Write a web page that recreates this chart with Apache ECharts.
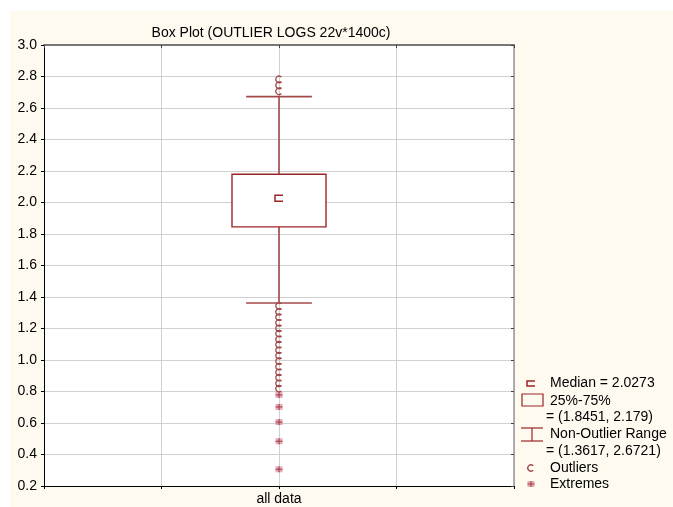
<!DOCTYPE html>
<html>
<head>
<meta charset="utf-8">
<script src="https://cdn.jsdelivr.net/npm/echarts@6/dist/echarts.min.js"></script>
<style>
html,body{margin:0;padding:0;background:#fff;}
#chart{width:673px;height:507px;}
</style>
</head>
<body>
<div id="chart"></div>
<script>
const titleText = 'Box Plot (OUTLIER LOGS 22v*1400c)';
const categories = ['all data'];
const catPos = [2];
const median = [2.0273];
const q1 = [1.8451];
const q3 = [2.179];
const whiskerLow = [1.3617];
const whiskerHigh = [2.6721];
const outliers = [2.782, 2.744, 2.706,
  1.343, 1.305, 1.272, 1.236, 1.201, 1.168, 1.131, 1.097, 1.062, 1.028, 0.993, 0.958, 0.922, 0.888, 0.852, 0.818];
const extremes = [0.778, 0.702, 0.606, 0.484, 0.306];
const yTicks = [0.2, 3.0, 0.2]; // min, max, interval

const RED = '#9B2525';
const FONT = '"Liberation Sans", Arial, sans-serif';

function cShape(x, y, color) {
  return {type: 'arc', shape: {cx: x, cy: y, r: 3.2, startAngle: 0.75, endAngle: Math.PI * 2 - 0.75, clockwise: true},
    style: {stroke: color, lineWidth: 1.3, fill: null}};
}
function extremeShape(x, y) {
  return {type: 'group', children: [
    {type: 'rect', shape: {x: x - 3.5, y: y - 3, width: 7, height: 6}, style: {fill: 'rgba(200,110,125,0.55)'}},
    {type: 'line', shape: {x1: x - 3.5, y1: y, x2: x + 3.5, y2: y}, style: {stroke: '#A83848', lineWidth: 1}},
    {type: 'line', shape: {x1: x, y1: y - 3, x2: x, y2: y + 3}, style: {stroke: '#A83848', lineWidth: 1}}
  ]};
}

const boxData = categories.map((c, i) => [catPos[i], whiskerLow[i], q1[i], median[i], q3[i], whiskerHigh[i]]);
const outData = outliers.map(v => [catPos[0], v]);
const extData = extremes.map(v => [catPos[0], v]);

const chart = echarts.init(document.getElementById('chart'));
const axisFont = {color: '#000', fontSize: 14, fontFamily: FONT};

chart.setOption({
  animation: false,
  backgroundColor: '#ffffff',
  title: {text: titleText, left: 266, top: 21, textAlign: 'center',
    textStyle: {fontSize: 14, fontWeight: 'normal', color: '#000', fontFamily: FONT}},
  grid: {left: 44, top: 45, right: 159, bottom: 21, show: true, backgroundColor: '#ffffff', borderWidth: 0, z: 0},
  xAxis: [{
    type: 'value', min: 0, max: 4, interval: 1, position: 'bottom',
    axisLine: {show: true, onZero: false, lineStyle: {color: '#000', width: 1}},
    axisTick: {show: true, inside: false, length: 3, lineStyle: {color: '#000'}},
    splitLine: {show: true, lineStyle: {color: '#D0D0D0', width: 1}},
    axisLabel: {formatter: v => { const i = catPos.indexOf(v); return i >= 0 ? categories[i] : ''; }, margin: 6, ...axisFont}
  }, {
    type: 'value', min: 0, max: 4, interval: 1, position: 'top',
    axisLine: {show: true, onZero: false, lineStyle: {color: '#777', width: 2}},
    axisTick: {show: true, inside: true, length: 3, lineStyle: {color: '#444'}},
    splitLine: {show: false}, axisLabel: {show: false}
  }],
  yAxis: [{
    type: 'value', min: yTicks[0], max: yTicks[1], interval: yTicks[2], position: 'left',
    axisLine: {show: true, onZero: false, lineStyle: {color: '#000', width: 1}},
    axisTick: {show: true, inside: false, length: 3, lineStyle: {color: '#000'}},
    splitLine: {show: true, lineStyle: {color: '#D0D0D0', width: 1}},
    axisLabel: {formatter: v => v.toFixed(1), margin: 7, ...axisFont}
  }, {
    type: 'value', min: yTicks[0], max: yTicks[1], interval: yTicks[2], position: 'right',
    axisLine: {show: true, onZero: false, lineStyle: {color: '#999', width: 1.5}},
    axisTick: {show: true, inside: true, length: 3, lineStyle: {color: '#444'}},
    splitLine: {show: false}, axisLabel: {show: false}
  }],
  graphic: [
    {type: 'rect', z: -100, silent: true, shape: {x: 10, y: 11, width: 663, height: 496}, style: {fill: '#FFFAF0'}},
    // legend
    {type: 'polyline', shape: {points: [[535, 381], [527, 381], [527, 386], [535, 386]]}, style: {stroke: RED, lineWidth: 1.5, fill: null}},
    {type: 'text', x: 550, y: 383, style: {text: 'Median = ' + median[0].toFixed(4), font: '14px ' + FONT, fill: '#000', verticalAlign: 'middle'}},
    {type: 'rect', shape: {x: 522, y: 394, width: 21, height: 12}, style: {stroke: RED, lineWidth: 1.2, fill: null}},
    {type: 'text', x: 550, y: 401, style: {text: '25%-75%', font: '14px ' + FONT, fill: '#000', verticalAlign: 'middle'}},
    {type: 'text', x: 546, y: 417, style: {text: '= (' + q1[0] + ', ' + q3[0] + ')', font: '14px ' + FONT, fill: '#000', verticalAlign: 'middle'}},
    {type: 'line', shape: {x1: 521, y1: 428, x2: 543, y2: 428}, style: {stroke: RED, lineWidth: 1.2}},
    {type: 'line', shape: {x1: 521, y1: 441, x2: 543, y2: 441}, style: {stroke: RED, lineWidth: 1.2}},
    {type: 'line', shape: {x1: 532, y1: 428, x2: 532, y2: 441}, style: {stroke: RED, lineWidth: 1.2}},
    {type: 'text', x: 550, y: 434, style: {text: 'Non-Outlier Range', font: '14px ' + FONT, fill: '#000', verticalAlign: 'middle'}},
    {type: 'text', x: 546, y: 451, style: {text: '= (' + whiskerLow[0] + ', ' + whiskerHigh[0] + ')', font: '14px ' + FONT, fill: '#000', verticalAlign: 'middle'}},
    Object.assign(cShape(531, 468, '#A04848'), {}),
    {type: 'text', x: 550, y: 468, style: {text: 'Outliers', font: '14px ' + FONT, fill: '#000', verticalAlign: 'middle'}},
    extremeShape(531, 484),
    {type: 'text', x: 550, y: 484, style: {text: 'Extremes', font: '14px ' + FONT, fill: '#000', verticalAlign: 'middle'}}
  ],
  series: [{
    type: 'custom', z: 3,
    data: boxData,
    encode: {x: 0, y: [1, 2, 3, 4, 5]},
    renderItem: function (params, api) {
      const x = api.value(0);
      const pLow = api.coord([x, api.value(1)]);
      const pQ1 = api.coord([x, api.value(2)]);
      const pMed = api.coord([x, api.value(3)]);
      const pQ3 = api.coord([x, api.value(4)]);
      const pHigh = api.coord([x, api.value(5)]);
      const boxW = api.size([0.8, 0])[0];
      const capW = api.size([0.56, 0])[0];
      const cx = pMed[0];
      return {type: 'group', children: [
        {type: 'line', shape: {x1: cx, y1: pQ1[1], x2: cx, y2: pLow[1]}, style: {stroke: '#A24A4A', lineWidth: 1.6}},
        {type: 'line', shape: {x1: cx, y1: pQ3[1], x2: cx, y2: pHigh[1]}, style: {stroke: '#A24A4A', lineWidth: 1.6}},
        {type: 'line', shape: {x1: cx - capW / 2, y1: pLow[1], x2: cx + capW / 2, y2: pLow[1]}, style: {stroke: '#A24A4A', lineWidth: 1.6}},
        {type: 'line', shape: {x1: cx - capW / 2, y1: pHigh[1], x2: cx + capW / 2, y2: pHigh[1]}, style: {stroke: '#A24A4A', lineWidth: 1.6}},
        {type: 'rect', shape: {x: cx - boxW / 2, y: pQ3[1], width: boxW, height: pQ1[1] - pQ3[1]}, style: {stroke: RED, lineWidth: 1.4, fill: '#fff'}},
        {type: 'polyline', shape: {points: [[cx + 4, pMed[1] - 3], [cx - 4, pMed[1] - 3], [cx - 4, pMed[1] + 3], [cx + 4, pMed[1] + 3]]}, style: {stroke: RED, lineWidth: 1.5, fill: null}}
      ]};
    }
  }, {
    type: 'custom', z: 4,
    data: outData,
    encode: {x: 0, y: 1},
    renderItem: function (params, api) {
      const p = api.coord([api.value(0), api.value(1)]);
      return cShape(p[0], p[1], '#A04848');
    }
  }, {
    type: 'custom', z: 4,
    data: extData,
    encode: {x: 0, y: 1},
    renderItem: function (params, api) {
      const p = api.coord([api.value(0), api.value(1)]);
      return extremeShape(p[0], p[1]);
    }
  }]
});
</script>
</body>
</html>
